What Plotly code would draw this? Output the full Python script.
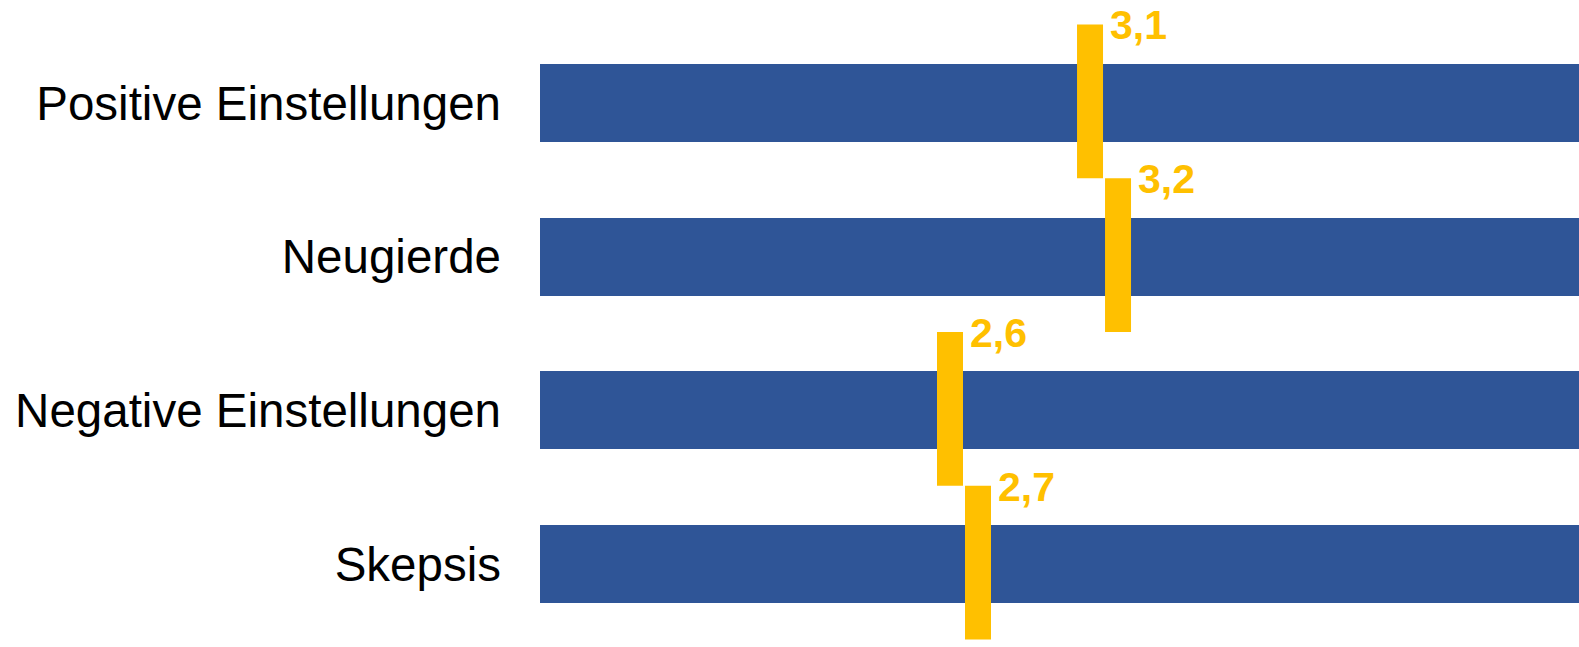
import plotly.graph_objects as go

categories = ["Positive Einstellungen", "Neugierde", "Negative Einstellungen", "Skepsis"]
means = [3.1, 3.2, 2.6, 2.7]
mean_labels = ["3,1", "3,2", "2,6", "2,7"]
scale_min = 1.136
scale_max = 4.846

BAR_COLOR = "#2F5597"
MARK_COLOR = "#FFC000"

# category pitch in px is 153.75; extend range to fill the full height
PITCH = 153.75
Y_TOP = -0.5 - 26 / PITCH
Y_BOT = 3.5 + 6 / PITCH

fig = go.Figure()

# background scale bars
fig.add_trace(go.Bar(
    y=categories,
    x=[scale_max - scale_min] * len(categories),
    base=[scale_min] * len(categories),
    orientation="h",
    marker=dict(color=BAR_COLOR, line=dict(width=0)),
    width=0.507,
    hoverinfo="skip",
    showlegend=False,
))

# mean markers (vertical thick lines)
xs, ys = [], []
for i, v in enumerate(means):
    xs += [v, v, None]
    ys += [i - 0.51, i + 0.49, None]
fig.add_trace(go.Scatter(
    x=xs, y=ys, mode="lines",
    line=dict(color=MARK_COLOR, width=26),
    yaxis="y2", hoverinfo="skip", showlegend=False,
))

# labels
fig.add_trace(go.Scatter(
    x=[v + 0.0714 for v in means],
    y=[i - 0.48 for i in range(len(means))],
    mode="text",
    text=mean_labels,
    textposition="middle right",
    textfont=dict(family="Liberation Sans, Arial", size=41, color=MARK_COLOR, weight="bold"),
    yaxis="y2", hoverinfo="skip", showlegend=False, cliponaxis=False,
))

fig.update_layout(
    width=1579, height=647,
    margin=dict(l=540, r=0, t=0, b=0),
    paper_bgcolor="white", plot_bgcolor="white",
    bargap=0,
    xaxis=dict(range=[scale_min, scale_max], visible=False, fixedrange=True),
    yaxis=dict(
        categoryorder="array", categoryarray=categories,
        range=[Y_BOT, Y_TOP], showgrid=False, zeroline=False, showline=False,
        tickfont=dict(family="Liberation Sans, Arial", size=47.5, color="black"),
        ticklabelstandoff=38, ticks="",
    ),
    yaxis2=dict(overlaying="y", range=[Y_BOT, Y_TOP], visible=False),
)

fig.write_html("out.html")
